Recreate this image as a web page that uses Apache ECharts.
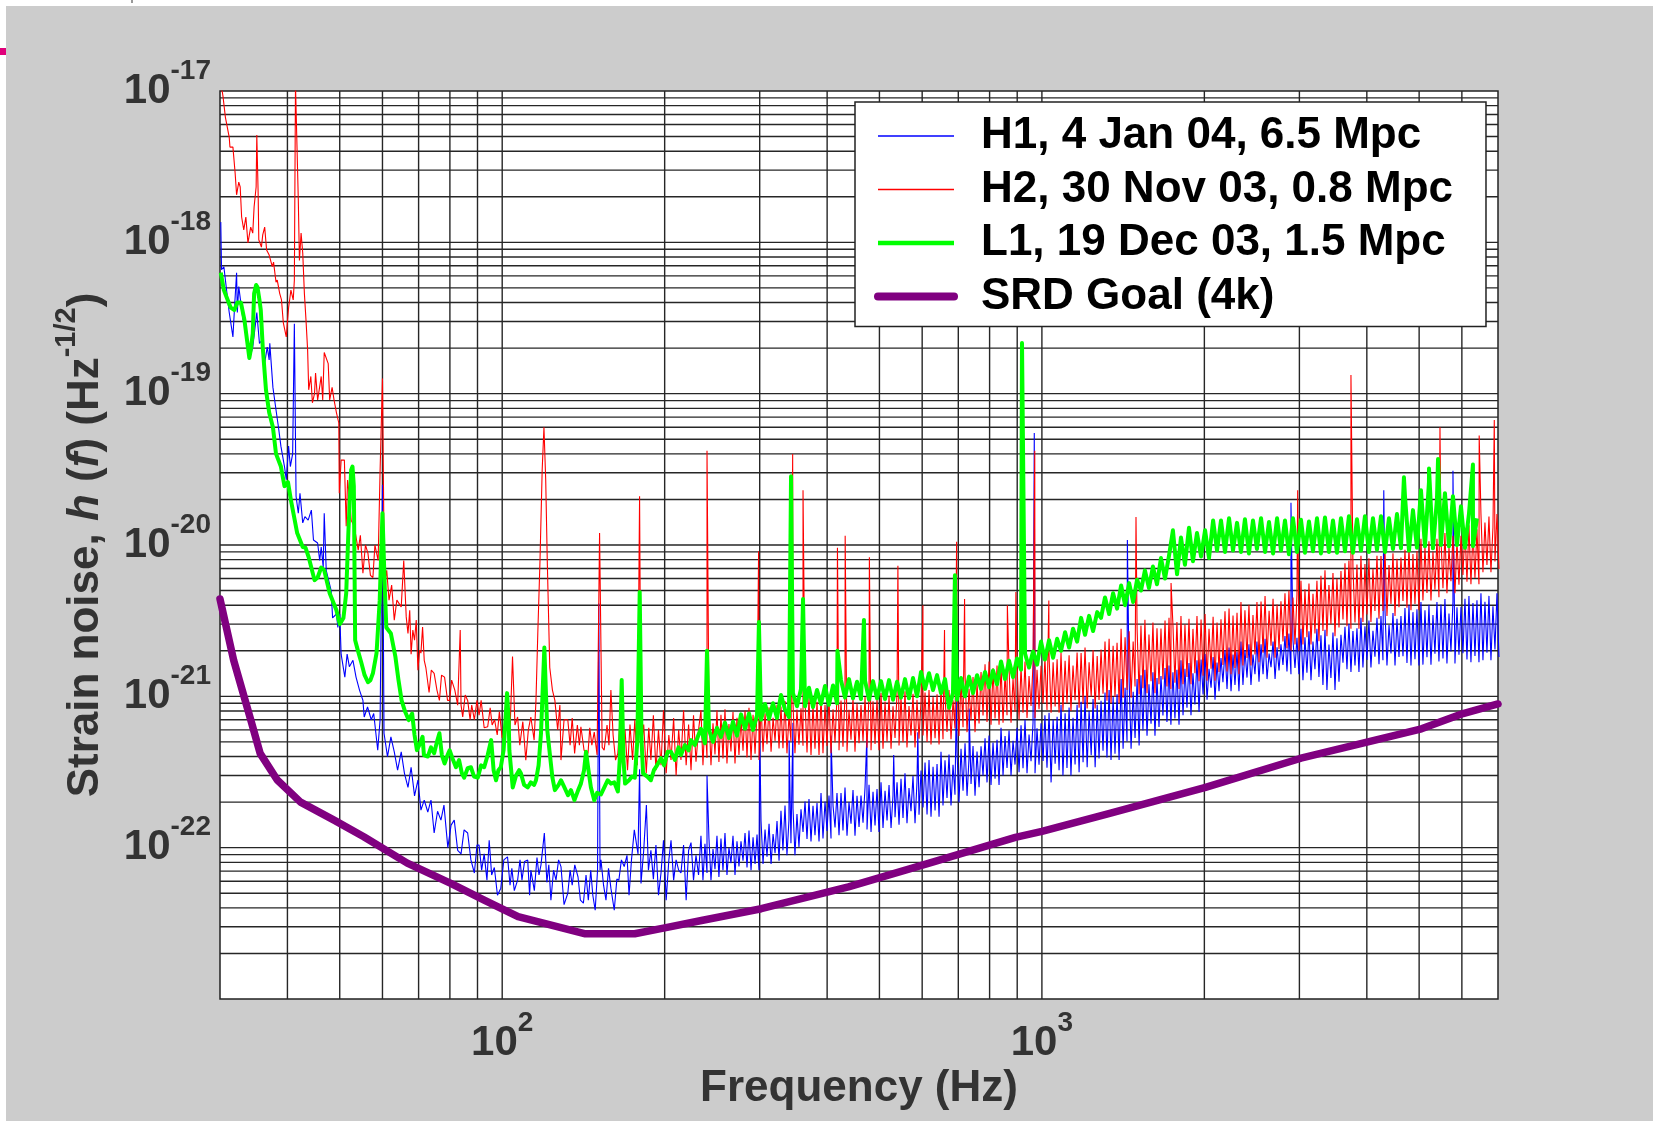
<!DOCTYPE html>
<html><head><meta charset="utf-8">
<script src="https://cdn.jsdelivr.net/npm/echarts@6/dist/echarts.min.js"></script>
<style>html,body{margin:0;padding:0;background:#fff;}#c{width:1653px;height:1121px;}</style>
</head><body><div id="c"></div>
<script>
// ---------------- DATA ----------------
const seriesNames = ['H1, 4 Jan 04, 6.5 Mpc', 'H2, 30 Nov 03, 0.8 Mpc', 'L1, 19 Dec 03, 1.5 Mpc', 'SRD Goal (4k)'];
const gridX = [40,50,60,70,80,90,100,200,300,400,500,600,700,800,900,1000,2000,3000,4000,5000,6000];
const gridY = [2e-23,3e-23,4e-23,5e-23,6e-23,7e-23,8e-23,9e-23,
  1e-22,2e-22,3e-22,4e-22,5e-22,6e-22,7e-22,8e-22,9e-22,
  1e-21,2e-21,3e-21,4e-21,5e-21,6e-21,7e-21,8e-21,9e-21,
  1e-20,2e-20,3e-20,4e-20,5e-20,6e-20,7e-20,8e-20,9e-20,
  1e-19,2e-19,3e-19,4e-19,5e-19,6e-19,7e-19,8e-19,9e-19,
  1e-18,2e-18,3e-18,4e-18,5e-18,6e-18,7e-18,8e-18,9e-18];

const srd = [[30,4.4e-21],[31.8,1.73e-21],[34.2,7.0e-22],[35.6,4.2e-22],[38.3,2.8e-22],[42.3,2.0e-22],[48.8,1.52e-22],[55.4,1.18e-22],[66.7,7.9e-23],[80.3,5.8e-23],[92.6,4.5e-23],[107,3.5e-23],[142,2.7e-23],[176,2.7e-23],[200,2.95e-23],[234,3.3e-23],[302,3.95e-23],[438,5.5e-23],[625,8.0e-23],[893,1.17e-22],[1000,1.28e-22],[1330,1.68e-22],[2010,2.5e-22],[3020,3.9e-22],[4020,5.0e-22],[5050,6.1e-22],[6030,7.7e-22],[7000,8.9e-22]];

const h1Low = [[30.1,1.36e-18],[30.2,6.6e-19],[30.5,6.9e-19],[30.8,5.1e-19],[31.2,3.45e-19],[31.7,2.37e-19],[31.9,3.57e-19],[32.2,6.3e-19],[32.3,3.44e-19],[32.5,5.1e-19],[32.7,5.0e-19],[33.1,3.06e-19],[33.3,3.2e-19],[33.8,2.15e-19],[34.0,1.67e-19],[34.5,2.03e-19],[35.1,3.44e-19],[35.5,2.15e-19],[35.9,2.26e-19],[36.2,1.5e-19],[36.7,2.03e-19],[37.0,1.67e-19],[37.1,2.15e-19],[37.6,1.1e-19],[38.1,7.8e-20],[38.5,6.0e-20],[38.9,4.5e-20],[39.5,3.3e-20],[39.8,2.7e-20],[40.2,4.5e-20],[40.5,3.3e-20],[40.9,4.0e-20],[41.2,2.9e-19],[41.5,2.1e-20],[41.9,1.62e-20],[42.2,2.2e-20],[42.7,1.4e-20],[43.1,1.54e-20],[43.7,1.46e-20],[44.3,1.7e-20],[44.7,1.08e-20],[45.5,1.03e-20],[45.9,7.9e-21],[46.2,9.7e-21],[46.6,7.1e-21],[46.8,1.62e-20],[47.2,6.8e-21],[48.2,5.0e-21],[48.5,3.3e-21],[49.3,3.5e-21],[49.6,2.85e-21],[50.0,3.5e-21],[50.3,1.9e-21],[51.1,1.34e-21],[51.6,1.9e-21],[52.1,1.57e-21],[52.9,1.73e-21],[53.6,1.34e-21],[54.4,1.1e-21],[55.2,9.4e-22],[55.5,7.3e-22],[56.3,8.5e-22],[57.2,7.0e-22],[57.8,7.7e-22],[58.8,4.4e-22],[59.4,7.0e-22],[60.0,2.5e-20],[60.4,5.7e-22],[61.3,4.0e-22],[62.2,5.4e-22],[63.1,4.3e-22],[64.0,3.25e-22],[65.0,4.3e-22],[65.9,3.1e-22],[66.9,2.5e-22],[67.8,3.4e-22],[68.8,2.2e-22],[69.8,2.8e-22],[70.7,1.77e-22],[71.7,2.06e-22],[72.8,1.72e-22],[73.8,2.06e-22],[74.8,1.25e-22],[75.9,1.74e-22],[77.0,1.52e-22],[78.0,1.91e-22],[79.3,1.0e-22],[80.4,1.41e-22],[81.5,1.52e-22],[82.7,9.6e-23],[83.9,9.1e-23],[85.0,1.31e-22],[86.3,1.25e-22],[87.5,8.3e-23],[88.8,6.8e-23],[89.8,1.04e-22],[90.6,1.04e-22],[91.6,7.1e-23],[92.6,9.1e-23],[93.7,6.1e-23],[94.6,1.12e-22],[95.6,6.6e-23],[96.7,7.4e-23],[98.0,4.85e-23],[99.4,5.4e-23],[100.7,8.3e-23],[102.3,8.7e-23],[103.4,5.65e-23],[104.2,7.3e-23],[105.3,5.2e-23],[106.8,6.1e-23],[107.9,8.3e-23],[108.8,6.1e-23],[110.0,8.1e-23],[111.5,8.3e-23],[112.4,4.85e-23],[113.0,7.1e-23],[114.7,5.2e-23],[116.0,8.6e-23],[117.0,6.6e-23],[118.0,7.7e-23],[119.7,1.25e-22],[121.0,5.9e-23],[122.0,7.7e-23],[123.1,4.5e-23],[124.5,7.1e-23],[125.8,6.1e-23],[127.2,8.3e-23],[128.5,7.5e-23],[130.2,4.2e-23],[132.3,5.0e-23],[133.6,7.1e-23],[134.8,5.65e-23],[136.3,7.7e-23],[138.2,6.4e-23],[139.6,4.5e-23],[141.4,4.3e-23],[143.0,6.6e-23],[144.4,4.5e-23],[145.9,7.1e-23],[147.2,4.85e-23],[148.7,3.86e-23],[150.2,7.1e-23],[151.0,4.1e-21],[151.8,7.1e-23],[152.4,8.3e-23],[154.1,5.65e-23],[155.7,4.5e-23],[157.4,7.3e-23],[159.0,5.4e-23],[161.3,3.86e-23],[163.1,6.2e-23],[164.5,6.1e-23],[166.3,8.3e-23],[168.3,7.5e-23],[170.3,8.9e-23],[171.8,4.85e-23],[173.6,8.3e-23],[175.7,1.31e-22],[178.5,9.1e-23],[179.7,3.3e-22],[180.8,5.8e-23],[182.9,9.6e-23],[185.0,1.91e-22],[186.6,7.1e-23],[188.6,9.6e-23],[190.6,6.2e-23],[192.7,1.04e-22],[194.8,4.85e-23],[196.9,6.8e-23],[199.0,1.12e-22],[201.3,4.5e-23],[203.6,8.3e-23],[205.5,1.12e-22],[207.8,6.1e-23],[210.0,8.3e-23],[212.3,7.1e-23],[214.4,6.8e-23],[216.8,1.04e-22],[219.2,4.5e-23],[221.5,9.6e-23],[223.8,1.08e-22],[226.2,6.1e-23],[228.6,8.9e-23],[231.1,6.6e-23]];

const h2Low = [[30.0,1.09e-17],[30.3,9.85e-18],[30.4,9.1e-18],[30.7,6.7e-18],[31.2,4.96e-18],[31.3,4.26e-18],[31.7,4.26e-18],[32.0,2.87e-18],[32.2,2.06e-18],[32.5,2.5e-18],[32.7,2.32e-18],[32.9,1.47e-18],[33.2,1.21e-18],[33.5,1.47e-18],[33.8,9.9e-19],[34.0,1.12e-18],[34.2,1.26e-18],[34.5,1.15e-18],[34.7,1.72e-18],[35.0,2.32e-18],[35.1,5.12e-18],[35.3,2.13e-18],[35.4,1.04e-18],[35.8,9.3e-19],[36.0,1.12e-18],[36.3,1.26e-18],[36.6,8.9e-19],[37.0,8.24e-19],[37.5,6.9e-19],[37.7,7.4e-19],[38.1,5.45e-19],[38.3,5.63e-19],[38.7,4.6e-19],[39.0,4.16e-19],[39.3,2.95e-19],[39.8,2.37e-19],[40.2,3.7e-19],[40.6,4.84e-19],[41.0,4.16e-19],[41.2,5.63e-19],[41.4,1.1e-17],[41.7,1.1e-17],[41.9,1.9e-18],[42.1,7.6e-19],[42.4,1.15e-18],[42.7,8.5e-19],[43.0,4.6e-19],[43.3,3.06e-19],[43.6,1.94e-19],[43.8,1.06e-19],[44.2,1.3e-19],[44.5,8.7e-20],[44.9,1.0e-19],[45.1,1.37e-19],[45.5,9.1e-20],[45.7,1.0e-19],[46.2,1.3e-19],[46.5,9.1e-20],[46.8,1.87e-19],[47.2,1.9e-19],[47.6,1.58e-19],[47.9,9.1e-20],[48.4,1.1e-19],[48.8,9.1e-20],[49.3,7.5e-20],[49.8,6.4e-20],[49.9,2.2e-20],[50.3,3.64e-20],[51.0,3.64e-20],[51.4,1.33e-20],[51.7,2.69e-20],[52.1,2.1e-20],[52.5,1.46e-20],[53.2,1.33e-20],[54.1,9.25e-21],[54.6,1.16e-20],[55.2,6.5e-21],[55.8,1.0e-20],[56.4,8.8e-21],[57.0,6.3e-21],[57.6,6.1e-21],[58.1,1.0e-20],[58.5,1.02e-20],[58.9,7.9e-21],[59.4,3.13e-20],[60.0,1.26e-19],[60.5,5.43e-21],[61.1,6.8e-21],[61.7,4.32e-21],[62.4,5.43e-21],[63.1,3.19e-21],[63.8,4.32e-21],[65.0,3.9e-21],[65.7,7.9e-21],[66.4,3.35e-21],[66.9,2.6e-21],[67.4,3.71e-21],[67.8,1.9e-21],[68.3,2.74e-21],[68.8,2.35e-21],[69.3,3.19e-21],[69.8,1.49e-21],[70.3,2.02e-21],[70.7,1.93e-21],[71.2,2.87e-21],[71.7,1.73e-21],[72.2,1.55e-21],[73.2,1.06e-21],[73.9,1.49e-21],[74.8,1.42e-21],[75.7,1.1e-21],[76.5,9.4e-22],[77.2,1.38e-21],[78.2,1.34e-21],[79.2,9.4e-22],[79.9,9.4e-22],[80.6,1.28e-21],[81.7,1.1e-21],[82.7,8.75e-22],[83.6,2.74e-21],[83.9,8.75e-22],[84.5,7.3e-22],[85.4,1.02e-21],[86.3,9.4e-22],[87.2,7.0e-22],[87.8,8.75e-22],[88.8,7.0e-22],[89.8,9.4e-22],[90.6,7.5e-22],[91.4,9.4e-22],[92.6,6.2e-22],[94.0,6.3e-22],[95.0,8.4e-22],[95.8,6.46e-22],[96.8,7.0e-22],[97.9,5.55e-22],[98.8,7.9e-22],[100,5.3e-22],[101,5.8e-22],[102.1,8.1e-22],[103.4,6.0e-22],[104.5,1.83e-21],[105.6,6.46e-22],[106.8,7.3e-22],[107.8,4.76e-22],[109.2,6.8e-22],[110.6,3.79e-22],[111.8,6.0e-22],[113.0,7.3e-22],[114.6,5.14e-22],[115.5,9.4e-22],[116.4,2.6e-21],[117.5,7.9e-21],[118.6,3.13e-20],[119.5,6.0e-20],[120.4,2.69e-20],[121.2,7.9e-21],[122.5,1.55e-21],[123.9,1.1e-21],[125.2,9.4e-22],[126.7,6.0e-22],[127.9,8.75e-22],[128.5,3.79e-22],[130.2,7.0e-22],[132.3,7.0e-22],[133.6,4.76e-22],[134.8,7.2e-22],[136.2,4.2e-22],[137.8,6.46e-22],[139.0,4.76e-22],[139.9,6.3e-22],[141.8,4.4e-22],[144.2,4.2e-22],[145.3,6.2e-22],[146.6,4.76e-22],[148.1,5.8e-22],[149.9,4.1e-22],[151.5,1.2e-20],[153.2,4.6e-22],[154.5,4.4e-22],[156.4,6.46e-22],[157.7,4.76e-22],[159.0,1.1e-21],[160.5,5.55e-22],[162.2,3.79e-22],[163.8,4.2e-22],[165.3,7.0e-22],[167.1,3.5e-22],[168.9,6.0e-22],[170.7,3.25e-22],[172.5,6.5e-22],[174.4,3.8e-22],[176.1,7.0e-22],[178.0,3.5e-22],[179.7,2.1e-20],[180.8,4.4e-22],[182.9,6.5e-22],[184.9,3.1e-22],[186.9,6.2e-22],[188.6,3.8e-22],[190.6,7.5e-22],[192.7,3.25e-22],[194.8,6.0e-22],[196.9,3.5e-22],[199.0,8.1e-22],[201.3,3.1e-22],[203.6,5.55e-22],[205.5,3.8e-22],[207.8,7.2e-22],[210.0,3.0e-22],[212.3,6.0e-22],[214.4,3.8e-22],[216.8,8.1e-22],[219.2,3.5e-22],[221.5,6.5e-22],[223.8,3.25e-22],[226.2,7.5e-22],[228.6,3.7e-22],[231.1,6.0e-22]];

const l1Low = [[30.1,6.3e-19],[30.5,4.84e-19],[31.0,4.16e-19],[31.4,3.7e-19],[31.9,3.57e-19],[32.3,4.0e-19],[32.8,4.0e-19],[33.3,3.06e-19],[33.8,2.03e-19],[34.0,1.72e-19],[34.2,1.94e-19],[34.5,2.5e-19],[34.7,4.6e-19],[35.0,5.22e-19],[35.2,5.06e-19],[35.5,4.16e-19],[35.7,3.57e-19],[36.0,2.03e-19],[36.5,1.06e-19],[37.0,7.5e-20],[37.6,6.0e-20],[38.1,4.0e-20],[38.9,3.3e-20],[39.5,2.45e-20],[40.1,2.6e-20],[40.6,1.98e-20],[41.7,1.2e-20],[42.7,9.7e-21],[43.2,9.6e-21],[43.8,8.3e-21],[44.9,5.86e-21],[45.5,6.1e-21],[46.2,7.1e-21],[46.8,6.8e-21],[47.9,4.8e-21],[49.3,3.71e-21],[50.0,3.0e-21],[50.8,3.3e-21],[51.4,4.8e-21],[51.9,1.26e-20],[52.5,3.13e-20],[52.8,3.3e-20],[53.1,2.45e-20],[53.4,2.35e-21],[54.0,2.02e-21],[54.8,1.68e-21],[55.6,1.38e-21],[56.4,1.24e-21],[57.0,1.28e-21],[57.6,1.42e-21],[58.5,1.93e-21],[59.3,4.32e-21],[60.0,1.62e-20],[60.6,5.2e-21],[61.0,2.85e-21],[62.2,2.6e-21],[63.4,1.83e-21],[64.2,1.3e-21],[65.1,9.4e-22],[66.1,7.9e-22],[67.1,6.97e-22],[68.1,7.7e-22],[68.8,5.55e-22],[69.5,4.41e-22],[70.2,4.76e-22],[71.2,5.4e-22],[71.6,4.09e-22],[72.8,4.0e-22],[73.8,4.6e-22],[74.8,4.2e-22],[75.7,5.0e-22],[76.5,5.7e-22],[77.3,4.09e-22],[78.2,3.6e-22],[79.2,4.09e-22],[79.9,4.4e-22],[81.1,3.79e-22],[82.1,3.4e-22],[83.2,3.79e-22],[84.2,3.1e-22],[85.0,2.9e-22],[86.3,3.35e-22],[87.5,3.4e-22],[88.7,2.95e-22],[90.1,2.9e-22],[91.4,3.5e-22],[92.6,3.4e-22],[94.0,4.1e-22],[95.4,5.14e-22],[96.4,3.25e-22],[97.4,2.79e-22],[98.4,3.25e-22],[99.4,3.4e-22],[100.6,4.4e-22],[101.4,7.0e-22],[102.1,1.05e-21],[102.8,7.0e-22],[103.1,4.4e-22],[104.6,2.5e-22],[106.1,3.0e-22],[107.5,3.25e-22],[108.3,3.1e-22],[109.8,2.6e-22],[111.5,2.5e-22],[113.0,2.7e-22],[114.6,2.6e-22],[115.5,2.79e-22],[116.8,3.5e-22],[118.0,5.7e-22],[119.7,2.1e-21],[121.2,6.0e-22],[122.5,4.2e-22],[123.9,2.9e-22],[125.2,2.4e-22],[127.2,2.6e-22],[128.5,2.79e-22],[130.4,2.5e-22],[132.4,2.22e-22],[134.1,2.4e-22],[136.1,2.06e-22],[138.3,2.4e-22],[139.9,2.65e-22],[141.8,3.25e-22],[143.0,4.3e-22],[144.5,3.25e-22],[146.0,2.5e-22],[148.1,2.06e-22],[149.9,2.3e-22],[152.4,2.25e-22],[154.6,2.5e-22],[156.8,2.79e-22],[159.0,2.65e-22],[161.3,2.7e-22],[163.8,2.35e-22],[165.1,3.79e-22],[166.5,1.28e-21],[167.8,3.79e-22],[168.9,2.65e-22],[171.8,2.79e-22],[174.0,2.95e-22],[176.1,2.9e-22],[178.0,5.14e-22],[179.8,4.9e-21],[181.2,5.14e-22],[182.4,3.1e-22],[185.7,2.95e-22],[188.6,2.79e-22],[191.0,3.25e-22],[193.6,3.5e-22],[196.9,3.9e-22],[199.5,3.5e-22],[202.6,4.3e-22],[205.5,4.3e-22],[208.9,3.8e-22],[212.2,4.6e-22],[214.4,4.1e-22],[218.0,4.76e-22],[221.5,4.4e-22],[223.8,5.14e-22],[227.5,4.76e-22],[231.0,5.55e-22]];

// fine frequency list (Hz) for H1 / H2 upper band
const fFine = [233.5,235.5,237.5,239.6,241.6,243.7,245.8,247.9,250.0,252.1,
 254.3,256.5,258.7,260.9,263.1,265.4,267.7,270.0,272.3,274.6,
 277.0,279.4,281.8,284.2,286.6,289.1,291.6,294.1,296.6,299.1,
 301.7,304.3,306.9,309.5,312.2,314.9,317.6,320.3,323.0,325.8,
 328.5,331.3,334.2,337.0,339.9,342.8,345.8,348.7,351.7,354.7,
 357.8,360.9,364.0,367.1,370.2,373.4,376.6,379.8,383.1,386.4,
 389.7,393.0,396.4,399.8,403.2,406.7,410.2,413.7,417.2,420.8,
 424.4,428.0,431.7,435.4,439.1,442.9,446.7,450.5,454.4,458.3,
 462.2,466.2,470.2,474.2,478.3,482.4,486.5,490.7,494.9,499.1,
 503.4,507.7,512.1,516.5,520.9,525.4,529.8,534.4,539.0,543.6,
 548.2,552.9,557.6,562.4,567.2,572.1,577.0,582.0,586.9,592.0,
 597.1,602.2,607.4,612.6,617.8,623.1,628.5,633.9,639.3,644.8,
 650.2,655.8,661.4,667.1,672.8,678.6,684.4,690.2,696.1,702.1,
 708.2,714.3,720.4,726.6,732.8,739.1,745.4,751.8,758.2,764.8,
 771.3,777.9,784.6,791.3,798.1,804.9,811.8,818.8,825.8,832.9,
 840.0,847.2,854.5,861.8,869.2,876.6,884.1,891.7,899.4,907.1,
 914.8,922.6,930.5,938.5,946.6,954.7,962.9,971.1,979.4,987.8,
 996.3,1005,1013,1022,1031,1040,1049,1058,1067,1076,
 1085,1094,1104,1113,1123,1132,1142,1152,1162,1172,
 1182,1192,1202,1213,1223,1234,1244,1255,1266,1276,
 1287,1298,1309,1320,1332,1343,1355,1366,1378,1390,
 1402,1414,1426,1438,1451,1463,1476,1488,1501,1514,
 1526,1539,1552,1566,1579,1593,1606,1620,1634,1648,
 1662,1676,1691,1705,1720,1734,1749,1764,1779,1795,
 1810,1826,1841,1857,1873,1889,1905,1921,1938,1955,
 1972,1989,2006,2023,2040,2058,2076,2093,2111,2129,
 2147,2165,2184,2203,2222,2241,2260,2279,2299,2318,
 2338,2358,2378,2399,2419,2440,2461,2482,2503,2525,
 2547,2569,2591,2613,2636,2658,2681,2704,2727,2750,
 2773,2797,2821,2845,2869,2894,2919,2944,2969,2994,
 3020,3046,3072,3098,3125,3152,3179,3206,3233,3261,
 3289,3317,3346,3374,3403,3432,3462,3492,3521,3552,
 3582,3613,3644,3675,3706,3738,3770,3803,3835,3868,
 3901,3934,3968,4002,4036,4071,4106,4141,4177,4213,
 4249,4285,4322,4359,4397,4434,4472,4511,4549,4588,
 4627,4667,4707,4747,4788,4829,4870,4912,4954,4996,
 5039,5082,5126,5170,5214,5259,5304,5349,5395,5441,
 5488,5535,5582,5630,5679,5727,5776,5826,5876,5926,
 5977,6028,6080,6132,6184,6237,6291,6345,6399,6454,
 6509,6565,6621,6678,6735,6793,6851,6910,6969,7029];

const h1Fine = [1.2e-22,6.1e-23,1.06e-22,6.8e-23,1.15e-22,6.1e-23,9.8e-23,7.2e-23,1.2e-22,6.4e-23,
 1.15e-22,7.1e-23,1.25e-22,6.6e-23,1.0e-22,7.9e-23,1.2e-22,6.6e-23,1.1e-22,7.5e-23,
 1.1e-22,8.2e-23,1.25e-22,7.4e-23,1.3e-22,7.1e-23,1.17e-22,7.8e-23,1.22e-22,7.1e-23,
 1.5e-22,7.8e-23,1.32e-22,8.7e-23,1.44e-22,7.8e-23,1.23e-22,9.2e-23,1.5e-22,8.2e-23,
 1.75e-22,9.6e-23,1.9e-22,8.9e-23,1.52e-22,1.07e-22,1.82e-22,8.9e-23,1.67e-22,1.01e-22,
 1.79e-22,1.27e-22,2.02e-22,1.14e-22,2.1e-22,1.1e-22,1.89e-22,1.21e-22,1.97e-22,1.1e-22,
 2.3e-22,1.15e-22,2.02e-22,1.29e-22,2.21e-22,1.15e-22,1.89e-22,1.36e-22,2.3e-22,1.21e-22,
 2.3e-22,1.3e-22,2.5e-22,1.2e-22,2.0e-22,1.44e-22,2.4e-22,1.2e-22,2.2e-22,1.37e-22,
 2.21e-22,1.46e-22,2.5e-22,1.32e-22,2.6e-22,1.27e-22,2.34e-22,1.4e-22,2.44e-22,1.27e-22,
 2.7e-22,1.35e-22,2.38e-22,1.51e-22,2.59e-22,1.35e-22,2.21e-22,1.59e-22,2.7e-22,1.42e-22,
 2.85e-22,1.57e-22,3.1e-22,1.45e-22,2.48e-22,1.74e-22,2.98e-22,1.45e-22,2.73e-22,1.65e-22,
 3.23e-22,1.84e-22,3.65e-22,1.66e-22,3.8e-22,1.6e-22,3.42e-22,1.76e-22,3.57e-22,1.6e-22,
 4.3e-22,1.9e-22,3.78e-22,2.13e-22,4.13e-22,1.9e-22,3.53e-22,2.24e-22,4.3e-22,2.0e-22,
 4.5e-22,2.38e-22,4.9e-22,2.2e-22,3.92e-22,2.64e-22,4.7e-22,2.2e-22,4.31e-22,2.51e-22,
 4.68e-22,2.99e-22,5.28e-22,2.7e-22,5.5e-22,2.6e-22,4.95e-22,2.86e-22,5.17e-22,2.6e-22,
 6.2e-22,3.0e-22,5.46e-22,3.36e-22,5.95e-22,3.0e-22,5.08e-22,3.54e-22,6.2e-22,3.15e-22,
 6.44e-22,3.35e-22,7.0e-22,3.1e-22,5.6e-22,3.72e-22,6.72e-22,3.1e-22,6.16e-22,3.53e-22,
 6.63e-22,3.74e-22,7.49e-22,3.38e-22,7.8e-22,2.7e-22,7.02e-22,3.58e-22,7.33e-22,3.25e-22,
 8.8e-22,3.0e-22,7.74e-22,3.36e-22,8.45e-22,3.0e-22,7.22e-22,3.54e-22,8.8e-22,3.15e-22,
 9.2e-22,3.67e-22,1.0e-21,3.4e-22,8.0e-22,4.08e-22,9.6e-22,3.4e-22,8.8e-22,3.88e-22,
 9.35e-22,4.37e-22,1.06e-21,3.95e-22,1.1e-21,3.8e-22,9.9e-22,4.18e-22,1.03e-21,3.8e-22,
 1.3e-21,4.5e-22,1.14e-21,5.04e-22,1.25e-21,4.5e-22,1.07e-21,5.31e-22,1.3e-21,4.73e-22,
 1.38e-21,5.94e-22,1.5e-21,5.5e-22,1.2e-21,6.6e-22,1.44e-21,5.5e-22,1.32e-21,6.27e-22,
 1.36e-21,7.48e-22,1.54e-21,6.76e-22,1.6e-21,6.5e-22,1.44e-21,7.15e-22,1.5e-21,6.5e-22,
 1.73e-21,7.5e-22,1.52e-21,8.4e-22,1.66e-21,7.5e-22,1.42e-21,8.85e-22,1.73e-21,7.88e-22,
 1.75e-21,1.03e-21,1.9e-21,9.5e-22,1.52e-21,1.14e-21,1.82e-21,9.5e-22,1.67e-21,1.08e-21,
 1.79e-21,1.24e-21,2.02e-21,1.12e-21,2.1e-21,1.08e-21,1.89e-21,1.19e-21,1.97e-21,1.08e-21,
 2.3e-21,1.19e-21,2.02e-21,1.33e-21,2.21e-21,1.19e-21,1.89e-21,1.4e-21,2.3e-21,1.25e-21,
 2.21e-21,1.4e-21,2.4e-21,1.3e-21,1.92e-21,1.56e-21,2.3e-21,1.3e-21,2.11e-21,1.48e-21,
 2.21e-21,1.61e-21,2.5e-21,1.46e-21,2.6e-21,1.4e-21,2.34e-21,1.54e-21,2.44e-21,1.4e-21,
 2.8e-21,1.28e-21,2.46e-21,1.43e-21,2.69e-21,1.28e-21,2.3e-21,1.51e-21,2.8e-21,1.34e-21,
 2.53e-21,1.19e-21,2.75e-21,1.1e-21,2.2e-21,1.32e-21,2.64e-21,1.1e-21,2.42e-21,1.25e-21,
 2.55e-21,1.67e-21,2.88e-21,1.51e-21,3.0e-21,1.45e-21,2.7e-21,1.6e-21,2.82e-21,1.45e-21,
 3.3e-21,1.55e-21,2.9e-21,1.74e-21,3.17e-21,1.55e-21,2.71e-21,1.83e-21,3.3e-21,1.63e-21,
 3.4e-21,1.73e-21,3.7e-21,1.6e-21,2.96e-21,1.92e-21,3.55e-21,1.6e-21,3.26e-21,1.82e-21,
 3.4e-21,1.84e-21,3.84e-21,1.66e-21,4.0e-21,1.6e-21,3.6e-21,1.76e-21,3.76e-21,1.6e-21,
 4.2e-21,1.62e-21,3.7e-21,1.81e-21,4.03e-21,1.62e-21,3.44e-21,1.91e-21,4.2e-21,1.7e-21,
 4.05e-21,1.78e-21,4.4e-21,1.65e-21,3.52e-21,1.98e-21,4.22e-21,1.65e-21,3.87e-21,1.88e-21,
 3.91e-21,1.93e-21,4.42e-21,1.75e-21,4.6e-21,1.68e-21,4.14e-21,1.85e-21,4.32e-21,1.68e-21,
 4.8e-21,1.73e-21,4.22e-21,1.94e-21,4.61e-21,1.73e-21,3.94e-21,2.04e-21,4.8e-21,1.82e-21];

const h2Fine = [8.1e-22,3.5e-22,7.13e-22,3.92e-22,7.78e-22,3.5e-22,6.64e-22,4.13e-22,8.1e-22,3.68e-22,
 7.54e-22,3.89e-22,8.2e-22,3.6e-22,6.56e-22,4.32e-22,7.87e-22,3.6e-22,7.22e-22,4.1e-22,
 7.14e-22,4.37e-22,8.06e-22,3.95e-22,8.4e-22,3.8e-22,7.56e-22,4.18e-22,7.9e-22,3.8e-22,
 8.8e-22,4.3e-22,7.74e-22,4.82e-22,8.45e-22,4.3e-22,7.22e-22,5.07e-22,8.8e-22,4.52e-22,
 8.56e-22,4.54e-22,9.3e-22,4.2e-22,7.44e-22,5.04e-22,8.93e-22,4.2e-22,8.18e-22,4.79e-22,
 8.33e-22,4.72e-22,9.41e-22,4.26e-22,9.8e-22,4.1e-22,8.82e-22,4.51e-22,9.21e-22,4.1e-22,
 1.0e-21,4.2e-22,8.8e-22,4.7e-22,9.6e-22,4.2e-22,8.2e-22,4.96e-22,1.0e-21,4.41e-22,
 9.38e-22,4.64e-22,1.02e-21,4.3e-22,8.16e-22,5.16e-22,9.79e-22,4.3e-22,8.98e-22,4.9e-22,
 8.76e-22,5.06e-22,9.89e-22,4.58e-22,1.03e-21,4.4e-22,9.27e-22,4.84e-22,9.68e-22,4.4e-22,
 1.05e-21,4.5e-22,9.24e-22,5.04e-22,1.01e-21,4.5e-22,8.61e-22,5.31e-22,1.05e-21,4.73e-22,
 9.94e-22,4.97e-22,1.08e-21,4.6e-22,8.64e-22,5.52e-22,1.04e-21,4.6e-22,9.5e-22,5.24e-22,
 9.35e-22,5.52e-22,1.06e-21,4.99e-22,1.1e-21,4.8e-22,9.9e-22,5.28e-22,1.03e-21,4.8e-22,
 1.15e-21,5.2e-22,1.01e-21,5.82e-22,1.1e-21,5.2e-22,9.43e-22,6.14e-22,1.15e-21,5.46e-22,
 1.29e-21,6.26e-22,1.4e-21,5.8e-22,1.12e-21,6.96e-22,1.34e-21,5.8e-22,1.23e-21,6.61e-22,
 1.45e-21,7.48e-22,1.63e-21,6.76e-22,1.7e-21,6.5e-22,1.53e-21,7.15e-22,1.6e-21,6.5e-22,
 1.6e-21,6.7e-22,1.41e-21,7.5e-22,1.54e-21,6.7e-22,1.31e-21,7.91e-22,1.6e-21,7.04e-22,
 1.56e-21,7.78e-22,1.7e-21,7.2e-22,1.36e-21,8.64e-22,1.63e-21,7.2e-22,1.5e-21,8.21e-22,
 1.59e-21,8.97e-22,1.8e-21,8.11e-22,1.87e-21,7.8e-22,1.68e-21,8.58e-22,1.76e-21,7.8e-22,
 1.95e-21,8.0e-22,1.72e-21,8.96e-22,1.87e-21,8.0e-22,1.6e-21,9.44e-22,1.95e-21,8.4e-22,
 1.93e-21,8.96e-22,2.1e-21,8.3e-22,1.68e-21,9.96e-22,2.02e-21,8.3e-22,1.85e-21,9.46e-22,
 2.04e-21,1.04e-21,2.3e-21,9.36e-22,2.4e-21,9.0e-22,2.16e-21,9.9e-22,2.26e-21,9.0e-22,
 2.8e-21,9.8e-22,2.46e-21,1.1e-21,2.69e-21,9.8e-22,2.3e-21,1.16e-21,2.8e-21,1.03e-21,
 2.94e-21,1.13e-21,3.2e-21,1.05e-21,2.56e-21,1.26e-21,3.07e-21,1.05e-21,2.82e-21,1.2e-21,
 2.81e-21,1.29e-21,3.17e-21,1.16e-21,3.3e-21,1.12e-21,2.97e-21,1.23e-21,3.1e-21,1.12e-21,
 3.4e-21,1.2e-21,2.99e-21,1.34e-21,3.26e-21,1.2e-21,2.79e-21,1.42e-21,3.4e-21,1.26e-21,
 3.22e-21,1.37e-21,3.5e-21,1.27e-21,2.8e-21,1.52e-21,3.36e-21,1.27e-21,3.08e-21,1.45e-21,
 3.23e-21,1.61e-21,3.65e-21,1.46e-21,3.8e-21,1.4e-21,3.42e-21,1.54e-21,3.57e-21,1.4e-21,
 4.2e-21,1.6e-21,3.7e-21,1.79e-21,4.03e-21,1.6e-21,3.44e-21,1.89e-21,4.2e-21,1.68e-21,
 4.23e-21,1.94e-21,4.6e-21,1.8e-21,3.68e-21,2.16e-21,4.42e-21,1.8e-21,4.05e-21,2.05e-21,
 4.25e-21,2.3e-21,4.8e-21,2.08e-21,5.0e-21,2.0e-21,4.5e-21,2.2e-21,4.7e-21,2.0e-21,
 5.8e-21,2.2e-21,5.1e-21,2.46e-21,5.57e-21,2.2e-21,4.76e-21,2.6e-21,5.8e-21,2.31e-21,
 6.26e-21,2.7e-21,6.8e-21,2.5e-21,5.44e-21,3.0e-21,6.53e-21,2.5e-21,5.98e-21,2.85e-21,
 6.72e-21,3.22e-21,7.58e-21,2.91e-21,7.9e-21,2.8e-21,7.11e-21,3.08e-21,7.43e-21,2.8e-21,
 8.5e-21,3.1e-21,7.48e-21,3.47e-21,8.16e-21,3.1e-21,6.97e-21,3.66e-21,8.5e-21,3.26e-21,
 8.46e-21,3.67e-21,9.2e-21,3.4e-21,7.36e-21,4.08e-21,8.83e-21,3.4e-21,8.1e-21,3.88e-21,
 8.25e-21,4.26e-21,9.31e-21,3.85e-21,9.7e-21,3.7e-21,8.73e-21,4.07e-21,9.12e-21,3.7e-21,
 1.1e-20,4.3e-21,9.68e-21,4.82e-21,1.06e-20,4.3e-21,9.02e-21,5.07e-21,1.1e-20,4.52e-21,
 1.1e-20,5.18e-21,1.2e-20,4.8e-21,9.6e-21,5.76e-21,1.15e-20,4.8e-21,1.06e-20,5.47e-21,
 1.15e-20,6.33e-21,1.3e-20,5.72e-21,1.35e-20,5.5e-21,1.22e-20,6.05e-21,1.27e-20,5.5e-21,
 1.6e-20,6.6e-21,1.41e-20,7.39e-21,1.54e-20,6.6e-21,1.31e-20,7.79e-21,1.6e-20,6.93e-21];

// frequency list (Hz) for the L1 upper band
const fDense = [233.5,237.5,241.6,245.8,250.0, 254.3,258.7,263.1,267.7,272.3, 277.0,281.8,286.6,291.5,296.6, 301.7,306.9,312.2,317.5,323.0,
 328.5,334.2,339.9,345.7,351.7, 357.8,364.0,370.2,376.6,383.1, 389.7,396.4,403.2,410.2,417.3, 424.4,431.7,439.1,446.7,454.4,
 462.2,470.2,478.2,486.5,494.9, 503.4,512.1,520.9,529.8,539.0, 548.2,557.6,567.2,577.0,587.0, 597.1,607.4,617.8,628.5,639.3,
 650.2,661.4,672.8,684.3,696.2, 708.2,720.4,732.8,745.4,758.3, 771.3,784.6,798.1,811.8,825.8, 840.0,854.4,869.2,884.1,899.4,
 914.8,930.5,946.5,962.8,979.5, 996.3,1013,1031,1049,1067, 1085,1104,1123,1142,1162, 1182,1202,1223,1244,1266,
 1287,1309,1332,1355,1378, 1402,1426,1451,1476,1501, 1526,1552,1579,1606,1634, 1662,1691,1720,1749,1780,
 1810,1841,1873,1905,1938, 1972,2006,2040,2076,2111, 2147,2184,2222,2260,2299, 2338,2378,2419,2461,2503,
 2547,2591,2635,2681,2727, 2773,2821,2869,2919,2969, 3020,3072,3125,3179,3234, 3289,3346,3403,3462,3522,
 3582,3644,3706,3770,3835, 3901,3968,4036,4106,4177, 4249,4322,4396,4472,4549, 4627,4707,4788,4870,4954,
 5039,5126,5214,5304,5395, 5488,5582,5679,5776,5876, 5977,6080,6184,6291,6399];

const l1Dense = [6.1e-22,4.9e-22,6.0e-22,5.0e-22,6.2e-22, 5.4e-22,6.7e-22,5.3e-22,6.8e-22,5.5e-22, 7.6e-22,6.1e-22,7.7e-22,6.0e-22,7.5e-22, 7.0e-22,8.9e-22,7.1e-22,9.0e-22,7.2e-22,
 1.02e-21,8.2e-22,7.3e-22,1.05e-21,8.6e-22, 1.12e-21,8.6e-22,1.14e-21,8.5e-22,1.1e-21, 8.9e-22,1.17e-21,8.8e-22,1.18e-21,9.0e-22, 1.28e-21,9.8e-22,1.3e-21,9.7e-22,1.25e-21,
 9.6e-22,1.27e-21,9.5e-22,1.26e-21,9.7e-22, 1.26e-21,9.6e-22,1.28e-21,9.5e-22,1.25e-21, 9.8e-22,1.3e-21,9.7e-22,1.32e-21,1.0e-21, 1.45e-21,1.12e-21,1.42e-21,1.1e-21,1.38e-21,
 1.05e-21,1.3e-21,8.4e-22,1.05e-21,9.5e-22, 1.32e-21,1.0e-21,1.35e-21,1.05e-21,1.38e-21, 1.12e-21,1.45e-21,1.15e-21,1.48e-21,1.2e-21, 1.7e-21,1.3e-21,1.72e-21,1.34e-21,1.78e-21,
 1.5e-21,1.92e-21,1.55e-21,1.98e-21,1.62e-21, 2.3e-21,1.75e-21,2.35e-21,1.8e-21,2.4e-21, 2.0e-21,2.65e-21,2.1e-21,2.8e-21,2.3e-21, 3.3e-21,2.55e-21,3.4e-21,2.7e-21,3.6e-21,
 3.3e-21,4.5e-21,3.5e-21,4.8e-21,3.8e-21, 5.4e-21,4.0e-21,5.6e-21,4.2e-21,5.9e-21, 5.0e-21,6.8e-21,5.2e-21,7.2e-21,5.5e-21, 8.2e-21,6.0e-21,8.5e-21,1.25e-20,6.4e-21,
 1.12e-20,7.4e-21,1.3e-20,7.8e-21,1.2e-20, 8.4e-21,1.25e-20,8.2e-21,1.45e-20,9.2e-21, 1.45e-20,9.0e-21,1.5e-20,9.2e-21,1.4e-20, 9.0e-21,1.48e-20,8.8e-21,1.45e-20,9.4e-21,
 1.5e-20,9.0e-21,1.42e-20,8.8e-21,1.5e-20, 9.2e-21,1.45e-20,8.7e-21,1.5e-20,9.0e-21, 1.47e-20,8.9e-21,1.43e-20,9.1e-21,1.5e-20, 8.8e-21,1.52e-20,9.0e-21,1.45e-20,8.9e-21,
 1.5e-20,9.1e-21,1.55e-20,8.9e-21,1.48e-20, 9.2e-21,1.55e-20,9.0e-21,1.5e-20,9.3e-21, 1.55e-20,9.0e-21,1.5e-20,9.4e-21,1.6e-20, 9.5e-21,2.1e-20,9.2e-21,1.7e-20,9.6e-21,
 2.3e-20,9.8e-21,2.6e-20,9.5e-21,2.0e-20, 1.0e-20,2.2e-20,9.8e-21,2.1e-20,1.0e-20, 1.8e-20,9.6e-21,1.6e-20,9.8e-21,1.5e-20];

// narrow lines (spikes) in the upper band
const h1Spikes = [[239.6,3.0e-22],[300,6.0e-22],[340.1,5.1e-22],[345.7,6.7e-22],[406.7,5.5e-22],[474,5.5e-22],[531.4,4.1e-22],[589,5.8e-22],[694,9.3e-22],[733,8.3e-22],[968,5.5e-20],[1440,1.08e-20],[2894,1.9e-20],[4300,2.3e-20],[5776,3.1e-20]];
const h2Spikes = [[239.6,4.2e-20],[298.6,9.1e-21],[345.3,4.0e-20],[360.9,2.3e-20],[418,9.6e-21],[432,1.15e-20],[479,8.3e-21],[541,7.3e-21],[602,4.0e-21],[660,2.74e-21],[695,1.05e-20],[719,4.4e-21],[863,4.0e-21],[895,4.9e-21],[970,4.2e-20],[1030,4.3e-21],[1494,1.53e-20],[1735,5.6e-21],[2978,2.3e-20],[3738,1.33e-19],[5465,6.0e-20],[6460,5.3e-20],[6890,6.7e-20]];
const l1Spikes = [[239.6,2.0e-21],[299,3.1e-21],[342.9,2.85e-20],[360.9,4.4e-21],[418,2.0e-21],[468,3.2e-21],[690,6.3e-21],[918.6,2.16e-19],[4686,2.8e-20],[5215,3.2e-20],[5420,3.7e-20],[6290,3.4e-20]];

// ---------------- BUILD ----------------
function assemble(low, freqs, vals, spikes) {
  const pts = low.slice();
  const n = Math.min(vals.length, freqs.length);
  for (let i = 0; i < n; i++) pts.push([freqs[i], vals[i]]);
  spikes.forEach(s => pts.push(s));
  pts.sort((a, b) => a[0] - b[0]);
  return pts;
}
const h1Data = assemble(h1Low, fFine, h1Fine, h1Spikes);
const h2Data = assemble(h2Low, fFine, h2Fine, h2Spikes);
const l1Data = assemble(l1Low, fDense, l1Dense, l1Spikes);

const FF = '"Liberation Sans", Arial, Helvetica, sans-serif';
const TXT = '#333333';
const expLabel = v => {
  const e = Math.log10(v);
  if (!isFinite(e) || Math.abs(e - Math.round(e)) > 1e-6) return '';
  return '{b|10}{s|' + Math.round(e) + '}';
};
const labelRich = {
  b: {fontFamily: FF, fontWeight: 'bold', fontSize: 42, color: TXT, lineHeight: 68, verticalAlign: 'middle'},
  s: {fontFamily: FF, fontWeight: 'bold', fontSize: 28, color: TXT, lineHeight: 28, verticalAlign: 'top'}
};
const GRID_STROKE = {stroke: '#262626', lineWidth: 1.4};

const chart = echarts.init(document.getElementById('c'), null, {renderer: 'canvas'});
chart.setOption({
  animation: false,
  backgroundColor: '#cccccc',
  grid: {left: 220, top: 91, width: 1278, height: 908, show: true, backgroundColor: '#ffffff',
         borderColor: '#222222', borderWidth: 1.5, containLabel: false, outerBoundsMode: 'none'},
  xAxis: {
    type: 'log', logBase: 10, min: 30, max: 7000,
    axisLine: {show: false}, axisTick: {show: false}, splitLine: {show: false},
    axisLabel: {formatter: expLabel, rich: labelRich, margin: 10},
    name: 'Frequency (Hz)', nameLocation: 'middle', nameGap: 68, nameMoveOverlap: false,
    nameTextStyle: {fontFamily: FF, fontWeight: 'bold', fontSize: 44, color: TXT, lineHeight: 44}
  },
  yAxis: {
    type: 'log', logBase: 10, min: 1e-23, max: 1e-17,
    axisLine: {show: false}, axisTick: {show: false}, splitLine: {show: false},
    axisLabel: {formatter: expLabel, rich: labelRich, margin: 9},
    name: '{n|Strain noise, }{i|h}{n| (}{i|f}{n|) (Hz}{s|-1/2}{n|)}',
    nameLocation: 'middle', nameGap: 100, nameMoveOverlap: false,
    nameTextStyle: {
      rich: {
        n: {fontFamily: FF, fontWeight: 'bold', fontSize: 44, color: TXT, lineHeight: 68, verticalAlign: 'middle'},
        i: {fontFamily: FF, fontWeight: 'bold', fontStyle: 'italic', fontSize: 44, color: TXT, lineHeight: 68, verticalAlign: 'middle'},
        s: {fontFamily: FF, fontWeight: 'bold', fontSize: 29, color: TXT, lineHeight: 28, verticalAlign: 'top'}
      }
    }
  },
  legend: {
    orient: 'vertical', left: 855, top: 102,
    backgroundColor: '#ffffff', borderColor: '#222222', borderWidth: 1.5,
    padding: [12, 33, 8, 19], itemGap: 9.5, itemWidth: 76, itemHeight: 44,
    itemStyle: {opacity: 0},
    textStyle: {fontFamily: FF, fontWeight: 'bold', fontSize: 44, color: '#000000', lineHeight: 44, padding: [0, 0, 0, 22]},
    data: [
      {name: seriesNames[0], lineStyle: {width: 1.3, color: '#0000ff'}},
      {name: seriesNames[1], lineStyle: {width: 1.3, color: '#ff0000'}},
      {name: seriesNames[2], lineStyle: {width: 4.5, color: '#00ff00'}},
      {name: seriesNames[3], lineStyle: {width: 8, color: '#800080', cap: 'round'}}
    ]
  },
  graphic: [
    {type: 'rect', shape: {x: 0, y: 0, width: 1653, height: 6}, style: {fill: '#ffffff'}, silent: true},
    {type: 'rect', shape: {x: 0, y: 0, width: 6, height: 1121}, style: {fill: '#ffffff'}, silent: true},
    {type: 'rect', shape: {x: 0, y: 48, width: 6, height: 7}, style: {fill: '#e0007a'}, silent: true},
    {type: 'rect', shape: {x: 131, y: 0, width: 2, height: 3}, style: {fill: '#999999'}, silent: true}
  ],
  series: [
    {name: 'gridV', type: 'custom', z: 1, silent: true, data: gridX.map(v => [v, 1e-20]),
     encode: {x: 0, y: 1},
     renderItem: (params, api) => {
       const cs = params.coordSys; const p = api.coord([api.value(0), 1e-20]);
       return {type: 'line', shape: {x1: p[0], y1: cs.y, x2: p[0], y2: cs.y + cs.height}, style: GRID_STROKE};
     }},
    {name: 'gridH', type: 'custom', z: 1, silent: true, data: gridY.map(v => [100, v]),
     encode: {x: 0, y: 1},
     renderItem: (params, api) => {
       const cs = params.coordSys; const p = api.coord([100, api.value(1)]);
       return {type: 'line', shape: {x1: cs.x, y1: p[1], x2: cs.x + cs.width, y2: p[1]}, style: GRID_STROKE};
     }},
    {name: seriesNames[0], type: 'line', data: h1Data, showSymbol: false, symbol: 'none', z: 3,
     lineStyle: {color: '#0000ff', width: 1.1}, itemStyle: {color: '#0000ff'}, emphasis: {disabled: true}},
    {name: seriesNames[1], type: 'line', data: h2Data, showSymbol: false, symbol: 'none', z: 3,
     lineStyle: {color: '#ff0000', width: 1.1}, itemStyle: {color: '#ff0000'}, emphasis: {disabled: true}},
    {name: seriesNames[2], type: 'line', data: l1Data, showSymbol: false, symbol: 'none', z: 3,
     lineStyle: {color: '#00ff00', width: 4, join: 'round'}, itemStyle: {color: '#00ff00'}, emphasis: {disabled: true}},
    {name: seriesNames[3], type: 'line', data: srd, showSymbol: false, symbol: 'none', z: 3,
     lineStyle: {color: '#800080', width: 7.5, join: 'round', cap: 'round'}, itemStyle: {color: '#800080'}, emphasis: {disabled: true}}
  ]
});
</script></body></html>
